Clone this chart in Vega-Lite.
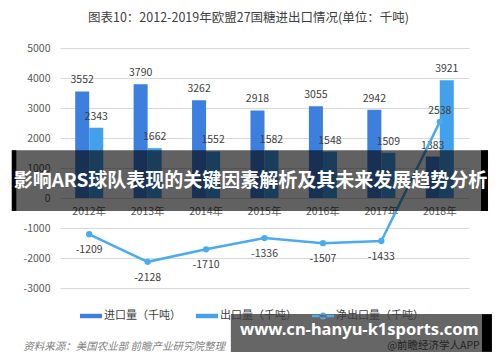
{
  "$schema": "https://vega.github.io/schema/vega-lite/v6.json",
  "width": 409,
  "height": 240,
  "autosize": "none",
  "padding": {"left": 60, "top": 48, "right": 31, "bottom": 74},
  "background": "white",
  "config": {
    "view": {"stroke": null},
    "font": "Noto Sans CJK SC",
    "axis": {"labelOverlap": false, "labelFont": "Noto Sans CJK SC"},
    "legend": {"labelFont": "Noto Sans CJK SC"},
    "locale": {"number": {"decimal": ".", "thousands": ",", "grouping": [3], "currency": ["$", ""], "minus": "-"}}
  },
  "title": {
    "text": "图表10：2012-2019年欧盟27国糖进出口情况(单位：千吨)",
    "fontSize": 12.5,
    "fontWeight": "normal",
    "color": "#404040",
    "anchor": "middle",
    "dx": -16,
    "offset": 19
  },
  "data": {
    "values": [
      {"year": "2012年", "series": "进口量（千吨）", "value": 3552},
      {"year": "2013年", "series": "进口量（千吨）", "value": 3790},
      {"year": "2014年", "series": "进口量（千吨）", "value": 3262},
      {"year": "2015年", "series": "进口量（千吨）", "value": 2918},
      {"year": "2016年", "series": "进口量（千吨）", "value": 3055},
      {"year": "2017年", "series": "进口量（千吨）", "value": 2942},
      {"year": "2018年", "series": "进口量（千吨）", "value": 1383},
      {"year": "2012年", "series": "出口量（千吨）", "value": 2343},
      {"year": "2013年", "series": "出口量（千吨）", "value": 1662},
      {"year": "2014年", "series": "出口量（千吨）", "value": 1552},
      {"year": "2015年", "series": "出口量（千吨）", "value": 1582},
      {"year": "2016年", "series": "出口量（千吨）", "value": 1548},
      {"year": "2017年", "series": "出口量（千吨）", "value": 1509},
      {"year": "2018年", "series": "出口量（千吨）", "value": 3921},
      {"year": "2012年", "series": "净出口量（千吨）", "value": -1209},
      {"year": "2013年", "series": "净出口量（千吨）", "value": -2128},
      {"year": "2014年", "series": "净出口量（千吨）", "value": -1710},
      {"year": "2015年", "series": "净出口量（千吨）", "value": -1336},
      {"year": "2016年", "series": "净出口量（千吨）", "value": -1507},
      {"year": "2017年", "series": "净出口量（千吨）", "value": -1433},
      {"year": "2018年", "series": "净出口量（千吨）", "value": 2538}
    ]
  },
  "layer": [
    {
      "transform": [{"filter": "datum.series !== '净出口量（千吨）'"}],
      "mark": {"type": "bar"},
      "encoding": {
        "x": {
          "field": "year", "type": "nominal", "sort": null, "title": null,
          "scale": {"paddingInner": 0.52, "paddingOuter": 0.26},
          "axis": {"orient": "bottom", "offset": -90, "domain": false, "ticks": false, "grid": false, "zindex": 0,
                   "labelPadding": 8, "labelFontSize": 10.5, "labelColor": "#595959", "labelAngle": 0}
        },
        "xOffset": {
          "field": "series", "type": "nominal",
          "scale": {"domain": ["进口量（千吨）", "出口量（千吨）"], "paddingInner": 0, "paddingOuter": 0}
        },
        "y": {
          "field": "value", "type": "quantitative", "title": null,
          "scale": {"domain": [-3000, 5000], "nice": false, "zero": false},
          "axis": {"values": [-3000, -2000, -1000, 0, 1000, 2000, 3000, 4000, 5000], "tickCount": 12, "format": "d",
                   "labelOverlap": false, "zindex": 0,
                   "grid": true, "gridColor": "#d9d9d9", "gridWidth": 1, "domain": false, "ticks": false,
                   "labelPadding": 10, "labelFontSize": 10.5, "labelColor": "#595959"}
        },
        "color": {
          "field": "series", "type": "nominal",
          "scale": {"domain": ["进口量（千吨）", "出口量（千吨）", "净出口量（千吨）"],
                    "range": ["#3D7FDE", "#43A0EC", "#4BABF0"]},
          "legend": {
            "orient": "none", "legendX": 20, "legendY": 257, "direction": "horizontal", "title": null,
            "symbolSize": 484, "labelFontSize": 11, "labelColor": "#404040", "labelOffset": 2,
            "columnPadding": 15, "symbolStrokeWidth": 0,
            "encode": {
              "symbols": {
                "update": {
                  "shape": {"signal": "datum.value === '净出口量（千吨）' ? 'M-1,-0.11H1V0.11H-1ZM-0.32,0A0.32,0.32,0,1,0,0.32,0A0.32,0.32,0,1,0,-0.32,0Z' : 'M-1,-0.2H1V0.2H-1Z'"},
                  "fill": {"scale": "color", "field": "value"},
                  "stroke": {"value": "transparent"},
                  "opacity": {"value": 1}
                }
              }
            }
          }
        }
      }
    },
    {
      "transform": [{"filter": "datum.series !== '净出口量（千吨）'"}],
      "mark": {"type": "text", "dy": -11, "baseline": "middle", "fontSize": 10.5, "color": "#404040"},
      "encoding": {
        "x": {"field": "year", "type": "nominal", "sort": null},
        "xOffset": {"field": "series", "type": "nominal"},
        "y": {"field": "value", "type": "quantitative"},
        "text": {"field": "value", "type": "quantitative", "format": "d"}
      }
    },
    {
      "transform": [{"filter": "datum.series === '净出口量（千吨）'"}],
      "mark": {"type": "line", "strokeWidth": 2.5, "point": {"filled": true, "size": 40}},
      "encoding": {
        "x": {"field": "year", "type": "nominal", "sort": null},
        "y": {"field": "value", "type": "quantitative"},
        "color": {"field": "series", "type": "nominal"}
      }
    },
    {
      "transform": [{"filter": "datum.series === '净出口量（千吨）' && datum.value < 0"}],
      "mark": {"type": "text", "dy": 16, "baseline": "middle", "fontSize": 10.5, "color": "#404040"},
      "encoding": {
        "x": {"field": "year", "type": "nominal", "sort": null},
        "y": {"field": "value", "type": "quantitative"},
        "text": {"field": "value", "type": "quantitative", "format": "d"}
      }
    },
    {
      "transform": [{"filter": "datum.series === '净出口量（千吨）' && datum.value > 0"}],
      "mark": {"type": "text", "dy": -11, "baseline": "middle", "fontSize": 10.5, "color": "#404040"},
      "encoding": {
        "x": {"field": "year", "type": "nominal", "sort": null},
        "y": {"field": "value", "type": "quantitative"},
        "text": {"field": "value", "type": "quantitative", "format": "d"}
      }
    },
    {
      "data": {"values": [{"top": 1590, "bottom": -433}]},
      "mark": {"type": "rect", "color": "black", "opacity": 0.62},
      "encoding": {
        "x": {"datum": "2012年", "bandPosition": -2.26},
        "x2": {"datum": "2018年", "bandPosition": 2.22},
        "y": {"field": "top", "type": "quantitative"},
        "y2": {"field": "bottom"}
      }
    },
    {
      "data": {"values": [{"top": 1590, "bottom": -433}]},
      "mark": {"type": "rect", "color": "black"},
      "encoding": {
        "x": {"datum": "2012年", "bandPosition": -2.26},
        "x2": {"datum": "2012年", "bandPosition": -2.1},
        "y": {"field": "top", "type": "quantitative"},
        "y2": {"field": "bottom"}
      }
    },
    {
      "data": {"values": [{"top": 1590, "bottom": -433}]},
      "mark": {"type": "rect", "color": "black"},
      "encoding": {
        "x": {"datum": "2018年", "bandPosition": 1.97},
        "x2": {"datum": "2018年", "bandPosition": 2.22},
        "y": {"field": "top", "type": "quantitative"},
        "y2": {"field": "bottom"}
      }
    },
    {
      "data": {"values": [{"label": "影响ARS球队表现的关键因素解析及其未来发展趋势分析", "year": "2015年", "pos": 583}]},
      "mark": {"type": "text", "dx": -14, "baseline": "middle", "fontSize": 19, "fontWeight": "bold", "color": "white"},
      "encoding": {
        "x": {"field": "year", "type": "nominal", "sort": null},
        "y": {"field": "pos", "type": "quantitative"},
        "text": {"field": "label"}
      }
    },
    {
      "data": {"values": [{"label": "资料来源：美国农业部 前瞻产业研究院整理", "year": "2012年", "pos": -4977}]},
      "mark": {"type": "text", "align": "left", "dx": -66, "baseline": "middle", "fontSize": 10.5, "fontStyle": "italic", "color": "#7f7f7f"},
      "encoding": {
        "x": {"field": "year", "type": "nominal", "sort": null},
        "y": {"field": "pos", "type": "quantitative"},
        "text": {"field": "label"}
      }
    },
    {
      "data": {"values": [{"label": "@前瞻经济学人APP", "year": "2018年", "pos": -4943}]},
      "mark": {"type": "text", "align": "right", "dx": 40, "baseline": "middle", "fontSize": 10.5, "color": "#595959"},
      "encoding": {
        "x": {"field": "year", "type": "nominal", "sort": null},
        "y": {"field": "pos", "type": "quantitative"},
        "text": {"field": "label"}
      }
    },
    {
      "data": {"values": [{"top": -3870, "bottom": -5130}]},
      "mark": {"type": "rect", "color": "black", "opacity": 0.6},
      "encoding": {
        "x": {"datum": "2015年", "bandPosition": -0.7},
        "x2": {"datum": "2018年", "bandPosition": 2.0},
        "y": {"field": "top", "type": "quantitative"},
        "y2": {"field": "bottom"}
      }
    },
    {
      "data": {"values": [{"top": -3870, "bottom": -5130}]},
      "mark": {"type": "rect", "color": "black"},
      "encoding": {
        "x": {"datum": "2018年", "bandPosition": 2.0},
        "x2": {"datum": "2018年", "bandPosition": 2.36},
        "y": {"field": "top", "type": "quantitative"},
        "y2": {"field": "bottom"}
      }
    },
    {
      "data": {"values": [{"label": "www.cn-hanyu-k1sports.com", "year": "2017年", "pos": -4410}]},
      "mark": {"type": "text", "dx": -22, "baseline": "middle", "fontSize": 16.5, "fontWeight": "bold", "color": "white", "font": "Noto Sans"},
      "encoding": {
        "x": {"field": "year", "type": "nominal", "sort": null},
        "y": {"field": "pos", "type": "quantitative"},
        "text": {"field": "label"}
      }
    }
  ]
}
